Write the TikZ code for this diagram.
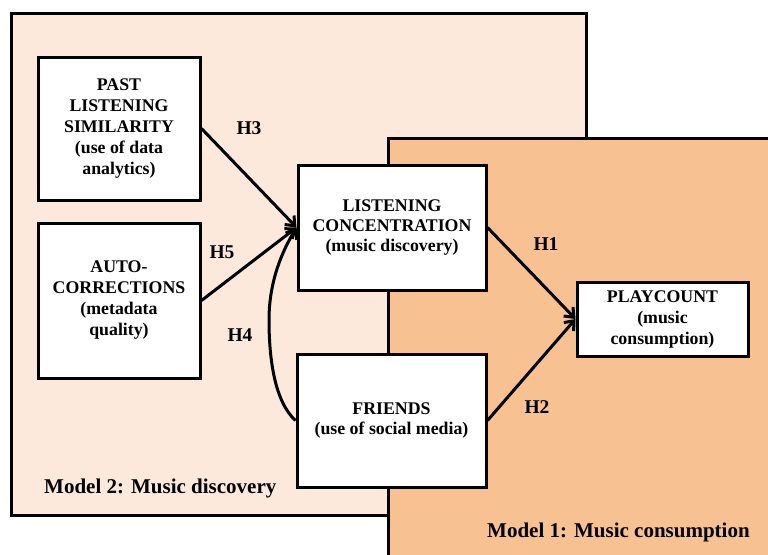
\documentclass[tikz,border=0pt]{standalone}
\usepackage{fontspec}
\setmainfont{Liberation Serif}
\usetikzlibrary{arrows.meta}
\definecolor{mtwo}{HTML}{FCE9DB}
\definecolor{mone}{HTML}{F8C192}
\begin{document}
\begin{tikzpicture}[x=1pt,y=-1pt,
  box/.style={draw=black,line width=3pt,fill=white,inner sep=0pt,align=center,
    font=\fontsize{17.8}{21}\selectfont\bfseries},
  hyp/.style={font=\fontsize{19.5}{22}\selectfont\bfseries,inner sep=0pt},
  modl/.style={font=\fontsize{21}{24}\selectfont\bfseries,inner sep=0pt,anchor=west},
  conn/.style={line width=3pt,-{Straight Barb[length=8pt,width=13pt,line width=3pt]}}]
\useasboundingbox (0,0) rectangle (768,554);
\clip (0,0) rectangle (768,554);
% model panels
\draw[line width=3pt,fill=mtwo] (11,13) rectangle (586,515);
\draw[line width=3pt,fill=mone] (388,138) rectangle (790,580);
% nodes
\node[box,minimum width=162pt,minimum height=143pt] (past) at (119,128.5)
  {PAST\\LISTENING\\SIMILARITY\\(use of data\\analytics)};
\node[box,minimum width=162pt,minimum height=155pt] (auto) at (119,300.5)
  {AUTO-\\CORRECTIONS\\(metadata\\quality)};
\node[box,minimum width=188pt,minimum height=125pt,
  font=\fontsize{17.8}{20}\selectfont\bfseries] (lc) at (392,227.5)
  {LISTENING\\CONCENTRATION\\(music discovery)};
\node[box,minimum width=189pt,minimum height=133pt,
  font=\fontsize{17.8}{20}\selectfont\bfseries] (fr) at (391.5,420.5)
  {FRIENDS\\(use of social media)};
\node[box,minimum width=171pt,minimum height=74pt] (pc) at (662.5,319)
  {PLAYCOUNT\\(music\\consumption)};
% connectors
\draw[conn] (past.east) -- (lc.west);
\draw[conn] (auto.east) -- (lc.west);
\draw[conn] (fr.west) .. controls (275,402) and (269,360) .. (269,320)
  .. controls (269,280) and (283,250) .. (lc.west);
\draw[conn] (lc.east) -- (pc.west);
\draw[conn] (fr.east) -- (pc.west);
% labels
\node[hyp] (h3) at (249,128) {H3};
\node[hyp] (h5) at (222,252) {H5};
\node[hyp] (h4) at (240,335) {H4};
\node[hyp] (h1) at (546,244) {H1};
\node[hyp] (h2) at (537,407) {H2};
\node[modl] (m2) at (44,488) {Model 2: Music discovery};
\node[modl] (m1) at (487,532) {Model 1: Music consumption};
\end{tikzpicture}
\end{document}
